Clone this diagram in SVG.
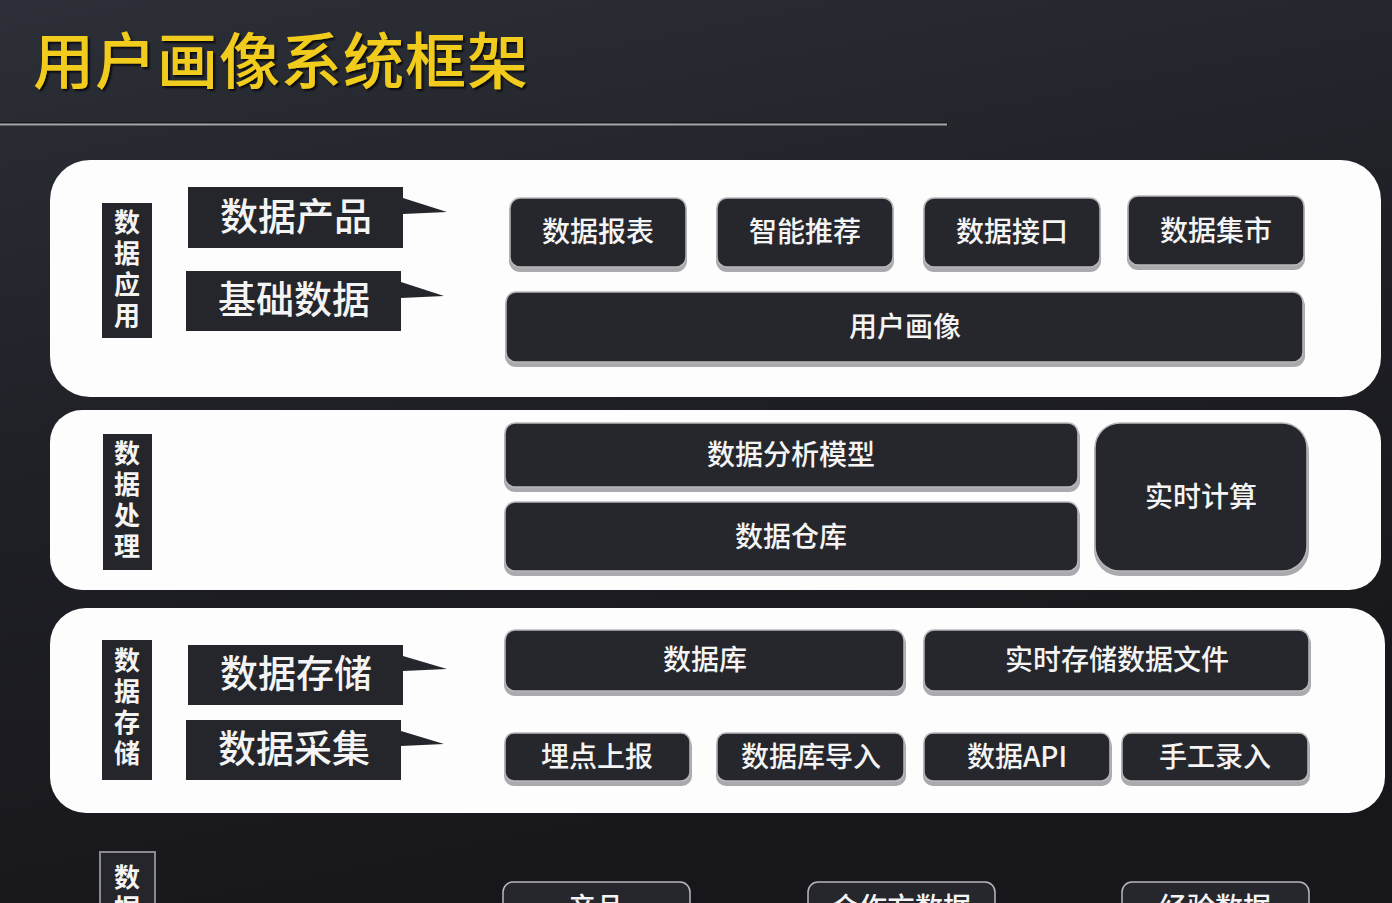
<svg xmlns="http://www.w3.org/2000/svg" width="1392" height="903" viewBox="0 0 1392 903">
<defs>
<linearGradient id="bg" x1="0" y1="0" x2="0.3" y2="1">
<stop offset="0" stop-color="#2c2f37"/>
<stop offset="0.5" stop-color="#1f2026"/>
<stop offset="1" stop-color="#17171b"/>
</linearGradient>
<filter id="tsh" x="-5%" y="-5%" width="110%" height="120%">
<feDropShadow dx="2" dy="2" stdDeviation="1" flood-color="#000" flood-opacity="0.8"/>
</filter>
</defs>
<style>
.panel{fill:#fdfdfd}
.box{fill:#26272c;stroke:#b8b8bc;stroke-width:1.5}
.boxsh{fill:#a9a9ae}
.vl{fill:#25262b}
.flag{fill:#25262b}
.t{font-family:"Noto Sans CJK SC","Noto Sans",sans-serif;fill:#f4f4f4;text-anchor:middle}
.bt{font-size:28px;font-weight:500}
.ft{font-size:38px;font-weight:500}
.vt{font-family:"Noto Sans CJK SC","Noto Sans",sans-serif;fill:#f4f4f4;font-size:26px;font-weight:700;writing-mode:tb;glyph-orientation-vertical:0;letter-spacing:5px}
</style>
<rect width="1392" height="903" fill="url(#bg)"/>
<g id="title">
<text x="33" y="84" font-family="'Noto Sans CJK SC','Noto Sans',sans-serif" font-size="61" font-weight="500" fill="#f2cc1c" filter="url(#tsh)" letter-spacing="1">用户画像系统框架</text>
<rect x="0" y="122" width="948" height="4" fill="#1a1a1e"/>
<rect x="0" y="123.5" width="947" height="2" fill="#a8a8ac"/>
</g>

<g id="panel-app">
<rect class="panel" x="50" y="160" width="1331" height="237" rx="40"/>
<rect class="vl" x="102" y="203" width="50" height="135"/>
<text class="vt" x="127" y="209">数据应用</text>
<g id="flag-product">
<path class="flag" d="M188 187H403V198L447 212L403 214V248H188Z"/>
<text class="t ft" x="296" y="230">数据产品</text>
</g>
<g id="flag-basic">
<path class="flag" d="M186 271H401V282L444 296L401 298V331H186Z"/>
<text class="t ft" x="294" y="313">基础数据</text>
</g>
</g>
<g id="n-report"><rect class="boxsh" x="509" y="201" width="178" height="71" rx="11"/><rect class="box" x="510" y="198" width="176" height="69" rx="10"/><text class="t bt" x="598" y="242">数据报表</text></g>
<g id="n-recommend"><rect class="boxsh" x="716" y="201" width="178" height="71" rx="11"/><rect class="box" x="717" y="198" width="176" height="69" rx="10"/><text class="t bt" x="805" y="242">智能推荐</text></g>
<g id="n-interface"><rect class="boxsh" x="923" y="201" width="178" height="71" rx="11"/><rect class="box" x="924" y="198" width="176" height="69" rx="10"/><text class="t bt" x="1012" y="242">数据接口</text></g>
<g id="n-mart"><rect class="boxsh" x="1127" y="199" width="178" height="71" rx="11"/><rect class="box" x="1128" y="196" width="176" height="69" rx="10"/><text class="t bt" x="1216" y="241">数据集市</text></g>
<g id="n-portrait"><rect class="boxsh" x="505" y="295" width="800" height="72" rx="11"/><rect class="box" x="506" y="292" width="797" height="70" rx="10"/><text class="t bt" x="905" y="337">用户画像</text></g>

<g id="panel-process">
<rect class="panel" x="50" y="410" width="1331" height="180" rx="32"/>
<rect class="vl" x="103" y="434" width="49" height="136"/>
<text class="vt" x="127" y="440">数据处理</text>
</g>
<g id="n-model"><rect class="boxsh" x="504" y="426" width="576" height="66" rx="11"/><rect class="box" x="505" y="423" width="573" height="64" rx="10"/><text class="t bt" x="791" y="465">数据分析模型</text></g>
<g id="n-warehouse"><rect class="boxsh" x="504" y="505" width="576" height="71" rx="11"/><rect class="box" x="505" y="502" width="573" height="69" rx="10"/><text class="t bt" x="791" y="547">数据仓库</text></g>
<g id="n-realtime"><rect class="boxsh" x="1094" y="426" width="215" height="150" rx="26"/><rect class="box" x="1095" y="423" width="212" height="148" rx="25"/><text class="t bt" x="1201" y="507">实时计算</text></g>

<g id="panel-storage">
<rect class="panel" x="50" y="608" width="1335" height="205" rx="36"/>
<rect class="vl" x="102" y="640" width="50" height="140"/>
<text class="vt" x="127" y="647">数据存储</text>
<g id="flag-store">
<path class="flag" d="M188 645H403V656L447 669L403 671V705H188Z"/>
<text class="t ft" x="296" y="687">数据存储</text>
</g>
<g id="flag-collect">
<path class="flag" d="M186 720H401V731L444 744L401 746V780H186Z"/>
<text class="t ft" x="294" y="762">数据采集</text>
</g>
</g>
<g id="n-db"><rect class="boxsh" x="504" y="633" width="402" height="63" rx="11"/><rect class="box" x="505" y="630" width="399" height="61" rx="10"/><text class="t bt" x="705" y="670">数据库</text></g>
<g id="n-rtfile"><rect class="boxsh" x="923" y="633" width="388" height="63" rx="11"/><rect class="box" x="924" y="630" width="385" height="61" rx="10"/><text class="t bt" x="1117" y="670">实时存储数据文件</text></g>
<g id="n-track"><rect class="boxsh" x="504" y="736" width="188" height="50" rx="10"/><rect class="box" x="505" y="733" width="185" height="48" rx="9"/><text class="t bt" x="597" y="767">埋点上报</text></g>
<g id="n-dbimport"><rect class="boxsh" x="716" y="736" width="190" height="50" rx="10"/><rect class="box" x="717" y="733" width="187" height="48" rx="9"/><text class="t bt" x="811" y="767">数据库导入</text></g>
<g id="n-api"><rect class="boxsh" x="923" y="736" width="189" height="50" rx="10"/><rect class="box" x="924" y="733" width="186" height="48" rx="9"/><text class="t bt" x="1017" y="767">数据API</text></g>
<g id="n-manual"><rect class="boxsh" x="1121" y="736" width="189" height="50" rx="10"/><rect class="box" x="1122" y="733" width="186" height="48" rx="9"/><text class="t bt" x="1215" y="767">手工录入</text></g>

<g id="panel-source">
<rect x="100" y="852" width="55" height="70" fill="#25262b" stroke="#8a8a8e" stroke-width="2"/>
<text class="vt" x="127" y="864">数据</text>
</g>
<g id="n-product"><rect class="box" x="503" y="882" width="187" height="50" rx="10"/><text class="t bt" x="596" y="918">产品</text></g>
<g id="n-partner"><rect class="box" x="808" y="882" width="187" height="50" rx="10"/><text class="t bt" x="901" y="918">合作方数据</text></g>
<g id="n-experience"><rect class="box" x="1122" y="882" width="187" height="50" rx="10"/><text class="t bt" x="1215" y="918">经验数据</text></g>
<g id="connectors"/>
</svg>
